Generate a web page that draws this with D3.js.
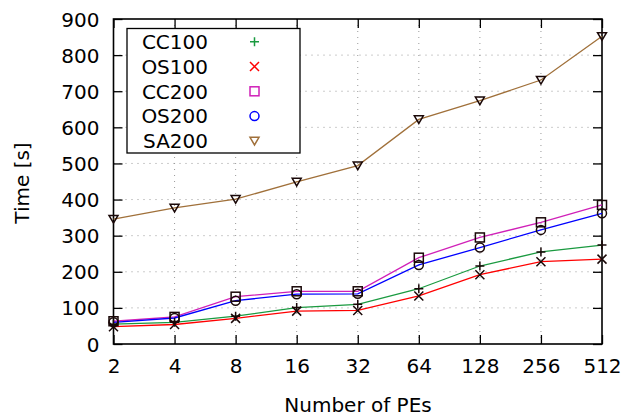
<!DOCTYPE html>
<html><head><meta charset="utf-8">
<script src="https://cdn.jsdelivr.net/npm/d3@7"></script>
<style>body{margin:0;background:#fff}svg{display:block}text{font-family:"DejaVu Sans",sans-serif;fill:#000}</style>
</head><body><svg id="c" width="624" height="414"></svg>
<script>
const categories = ["2","4","8","16","32","64","128","256","512"];
const yTicks = [0,100,200,300,400,500,600,700,800,900];
const seriesNames = ["CC100","OS100","CC200","OS200","SA200"];
const cc100 = [55,60,77,101,110,153,216,255,274];
const os100 = [48,54,71,91,93,133,192,228,235];
const cc200 = [63,75,131,146,146,239,295,337,385];
const os200 = [60,72,120,138,139,219,267,316,362];
const sa200 = [346,377,401,449,494,622,674,731,852];
const colors = ["#1a9a40","#ff0000","#d020b8","#0000ff","#a0703a"];
const symbols = ["plus","cross","square","circle","triangle"];

const svg = d3.select("#c");
const L=113.5, R=602, T=19, B=344;
const x = d3.scalePoint().domain(categories).range([L,R]);
const y = d3.scaleLinear().domain([0,900]).range([B,T]);
const data = [cc100,os100,cc200,os200,sa200];

// grid
const g = svg.append("g");
g.selectAll(".gy").data(yTicks.slice(1,-1)).enter().append("line")
 .attr("x1",L).attr("x2",R).attr("y1",d=>y(d)).attr("y2",d=>y(d))
 .attr("stroke","#999").attr("stroke-width",1).attr("stroke-dasharray","1,5");
g.selectAll(".gx").data(categories.slice(1,-1)).enter().append("line")
 .attr("y1",T).attr("y2",B).attr("x1",d=>x(d)).attr("x2",d=>x(d))
 .attr("stroke","#999").attr("stroke-width",1).attr("stroke-dasharray","1,5");

// axes with inward ticks
const tl=9;
const ax = svg.append("g").attr("transform",`translate(0,${B})`).call(d3.axisBottom(x).tickSize(-tl).tickPadding(14));
const axT = svg.append("g").attr("transform",`translate(0,${T})`).call(d3.axisTop(x).tickSize(-tl).tickFormat(""));
const ay = svg.append("g").attr("transform",`translate(${L},0)`).call(d3.axisLeft(y).tickValues(yTicks).tickSize(-tl).tickPadding(14));
const ayR = svg.append("g").attr("transform",`translate(${R},0)`).call(d3.axisRight(y).tickValues(yTicks).tickSize(-tl).tickFormat(""));
[ax,axT,ay,ayR].forEach(a=>{a.select(".domain").remove();a.selectAll("line").attr("stroke","#000").attr("stroke-width",1.3);a.selectAll("text").attr("font-size",20).attr("font-family","DejaVu Sans").attr("fill","#000");});
ay.selectAll("text").attr("dy","0.35em");
ax.selectAll("text").attr("dy","0.75em");
svg.append("rect").attr("x",L).attr("y",T).attr("width",R-L).attr("height",B-T).attr("fill","none").attr("stroke","#000").attr("stroke-width",1.6);

// lines
const line = d3.line().x((d,i)=>x(categories[i])).y(d=>y(d));
data.forEach((s,k)=>{
  svg.append("path").datum(s).attr("d",line).attr("fill","none").attr("stroke",colors[k]).attr("stroke-width",1.3);
});
function marker(sel,type,cx,cy,col,sz){
  const h=sz/2;
  if(type==="plus"){sel.append("path").attr("d",`M${cx-h},${cy}H${cx+h}M${cx},${cy-h}V${cy+h}`).attr("stroke",col).attr("stroke-width",1.5).attr("fill","none");}
  else if(type==="cross"){sel.append("path").attr("d",`M${cx-h},${cy-h}L${cx+h},${cy+h}M${cx-h},${cy+h}L${cx+h},${cy-h}`).attr("stroke",col).attr("stroke-width",1.5).attr("fill","none");}
  else if(type==="square"){sel.append("rect").attr("x",cx-h).attr("y",cy-h).attr("width",sz).attr("height",sz).attr("stroke",col).attr("stroke-width",1.5).attr("fill","none");}
  else if(type==="circle"){sel.append("circle").attr("cx",cx).attr("cy",cy).attr("r",h).attr("stroke",col).attr("stroke-width",1.5).attr("fill","none");}
  else {sel.append("path").attr("d",`M${cx-h},${cy-h*0.8}H${cx+h}L${cx},${cy+h*0.9}Z`).attr("stroke",col).attr("stroke-width",1.5).attr("fill","none");}
}
const mk = svg.append("g");
data.forEach((s,k)=>{
  s.forEach((v,i)=>marker(mk,symbols[k],x(categories[i]),y(v),"#1a0808",9));
});

// legend
const lg = svg.append("g");
lg.append("rect").attr("x",127).attr("y",28.5).attr("width",173).attr("height",124.5).attr("fill","#fff").attr("stroke","#000").attr("stroke-width",1.3);
seriesNames.forEach((n,k)=>{
  const cy = 41.7 + k*24.8;
  lg.append("text").attr("x",208).attr("y",cy).attr("dy","0.36em").attr("text-anchor","end").attr("font-size",20).text(n);
  marker(lg,symbols[k],254.5,cy,colors[k],9);
});

// axis titles
svg.append("text").attr("x",358).attr("y",412).attr("text-anchor","middle").attr("font-size",20).text("Number of PEs");
svg.append("text").attr("transform","translate(29,183) rotate(-90)").attr("text-anchor","middle").attr("font-size",20).text("Time [s]");
</script></body></html>
